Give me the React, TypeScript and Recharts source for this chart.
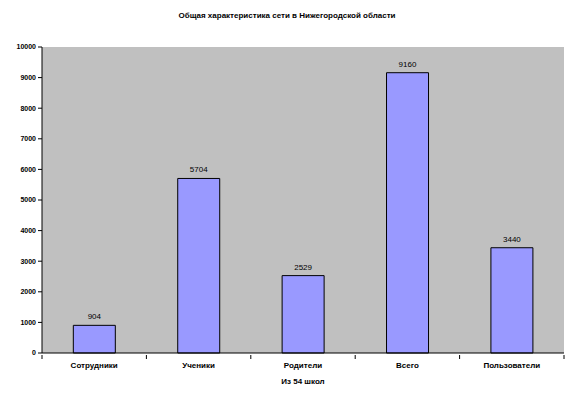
import {
  BarChart,
  Bar,
  XAxis,
  YAxis,
  CartesianGrid,
  LabelList,
  Label,
} from "recharts";

const categories = ["Сотрудники", "Ученики", "Родители", "Всего", "Пользователи"];
const counts = [904, 5704, 2529, 9160, 3440];
const yTicks = [0, 1000, 2000, 3000, 4000, 5000, 6000, 7000, 8000, 9000, 10000];

const data = categories.map((name, i) => ({ name, value: counts[i] }));

const font = "'Liberation Sans', Arial, sans-serif";
const W = 574;
const H = 398;
const M = { top: 47, right: 10, bottom: 14, left: 0 };
const Y_W = 42;
const band = (W - M.left - M.right - Y_W) / categories.length;

// Excel-style ticks sit between categories, not under them
function CategoryTick(props: any) {
  const { x, y, payload, index } = props;
  const last = index === categories.length - 1;
  return (
    <g>
      <line x1={x - band / 2} y1={y - 4} x2={x - band / 2} y2={y} stroke="#000" />
      {last && <line x1={x + band / 2} y1={y - 4} x2={x + band / 2} y2={y} stroke="#000" />}
      <text
        x={x}
        y={y + 9}
        textAnchor="middle"
        fontSize={8}
        fontWeight="bold"
        fill="#000"
        fontFamily={font}
      >
        {payload.value}
      </text>
    </g>
  );
}

export default function App() {
  return (
    <div
      style={{
        position: "absolute",
        left: 0,
        top: 0,
        width: W,
        height: H,
        background: "#fff",
        fontFamily: font,
      }}
    >
      <div
        style={{
          position: "absolute",
          top: 11,
          left: 0,
          width: W,
          textAlign: "center",
          fontSize: 8,
          fontWeight: "bold",
          color: "#000",
        }}
      >
        Общая характеристика сети в Нижегородской области
      </div>
      <BarChart
        width={W}
        height={H}
        data={data}
        margin={M}
        barCategoryGap="30%"
      >
        <CartesianGrid fill="#C0C0C0" horizontal={false} vertical={false} />
        <XAxis
          dataKey="name"
          stroke="#000"
          height={31}
          tickLine={false}
          tick={<CategoryTick />}
          tickSize={4}
          interval={0}
        >
          <Label
            value="Из 54 школ"
            position="insideBottom"
            offset={0}
            style={{ fontSize: 8, fontWeight: "bold", fill: "#000", fontFamily: font }}
          />
        </XAxis>
        <XAxis
          xAxisId="top"
          dataKey="name"
          orientation="top"
          stroke="#808080"
          tick={false}
          tickLine={false}
          height={0}
        />
        <YAxis
          domain={[0, 10000]}
          ticks={yTicks}
          interval={0}
          width={Y_W}
          stroke="#000"
          tickSize={4}
          tick={{ fontSize: 7, fontWeight: "bold", fill: "#000", fontFamily: font }}
        />
        <YAxis
          yAxisId="right"
          orientation="right"
          domain={[0, 10000]}
          stroke="#808080"
          tick={false}
          tickLine={false}
          width={0}
        />
        <Bar
          dataKey="value"
          fill="#9999FF"
          stroke="#000"
          strokeWidth={1}
          isAnimationActive={false}
        >
          <LabelList
            dataKey="value"
            position="top"
            offset={6}
            style={{ fontSize: 8, fill: "#000", fontFamily: font }}
          />
        </Bar>
      </BarChart>
    </div>
  );
}
